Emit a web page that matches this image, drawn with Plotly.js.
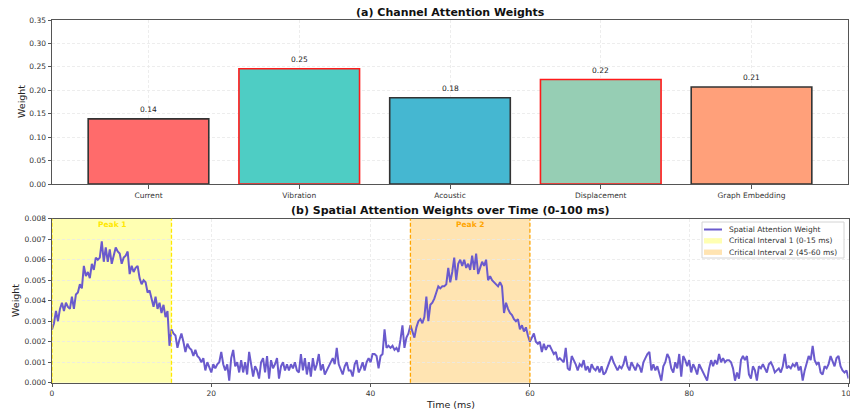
<!DOCTYPE html>
<html>
<head>
<meta charset="utf-8">
<script src="https://cdn.plot.ly/plotly-3.0.1.min.js"></script>
<style>html,body{margin:0;padding:0;background:#fff;}#chart{width:850px;height:413px;}</style>
</head>
<body>
<div id="chart"></div>
<script>
// ---- Data: (a) channel attention ----
const channels = ['Current', 'Vibration', 'Acoustic', 'Displacement', 'Graph Embedding'];
const channelWeights = [0.139, 0.246, 0.184, 0.223, 0.207];
const channelHighlighted = [false, true, false, true, false];

// ---- Data: (b) spatial attention over time (0-100 ms, sampled every 0.25 ms) ----
const timeStepMs = 0.25;
const spatialWeights = [
  0.0026,0.0029,0.0035,0.0030,0.0036,0.0039,0.0035,0.0039,0.0037,0.0036,0.0042,0.0036,0.0043,0.0044,0.0048,0.0046,0.0057,0.0052,0.0054,0.0051,
  0.0058,0.0055,0.0061,0.0060,0.0061,0.0069,0.0059,0.0066,0.0059,0.0065,0.0058,0.0062,0.0066,0.0064,0.0063,0.0058,0.0061,0.0062,0.0064,0.0053,
  0.0057,0.0054,0.0056,0.0057,0.0051,0.0048,0.0050,0.0049,0.0044,0.0045,0.0041,0.0037,0.0042,0.0036,0.0039,0.0034,0.0038,0.0032,0.0035,0.0018,
  0.0026,0.0024,0.0023,0.0017,0.0021,0.0024,0.0020,0.0015,0.0019,0.0017,0.0016,0.0013,0.0016,0.0013,0.0012,0.0010,0.0012,0.0006,0.0010,0.0007,
  0.0005,0.0009,0.0007,0.0009,0.0010,0.0015,0.0009,0.0006,0.0009,0.0001,0.0012,0.0016,0.0008,0.0010,0.0005,0.0011,0.0005,0.0010,0.0004,0.0015,
  0.0008,0.0003,0.0008,0.0006,0.0002,0.0010,0.0012,0.0005,0.0013,0.0002,0.0011,0.0007,0.0009,0.0012,0.0002,0.0008,0.0010,0.0006,0.0009,0.0006,
  0.0009,0.0007,0.0010,0.0006,0.0005,0.0014,0.0006,0.0012,0.0004,0.0010,0.0003,0.0012,0.0006,0.0009,0.0014,0.0006,0.0009,0.0004,0.0006,0.0008,
  0.0010,0.0012,0.0009,0.0017,0.0009,0.0006,0.0004,0.0008,0.0010,0.0006,0.0006,0.0003,0.0009,0.0011,0.0005,0.0007,0.0010,0.0006,0.0010,0.0012,
  0.0010,0.0014,0.0014,0.0013,0.0007,0.0013,0.0014,0.0026,0.0017,0.0018,0.0017,0.0018,0.0016,0.0017,0.0015,0.0021,0.0028,0.0017,0.0022,0.0024,
  0.0028,0.0025,0.0022,0.0027,0.0030,0.0031,0.0029,0.0032,0.0042,0.0030,0.0038,0.0039,0.0041,0.0044,0.0047,0.0046,0.0047,0.0047,0.0048,0.0056,
  0.0049,0.0054,0.0061,0.0050,0.0058,0.0060,0.0057,0.0060,0.0056,0.0058,0.0055,0.0062,0.0055,0.0063,0.0053,0.0056,0.0059,0.0057,0.0060,0.0050,
  0.0052,0.0050,0.0049,0.0048,0.0047,0.0049,0.0047,0.0034,0.0039,0.0036,0.0034,0.0033,0.0031,0.0030,0.0031,0.0026,0.0028,0.0025,0.0027,0.0023,
  0.0020,0.0022,0.0024,0.0020,0.0019,0.0020,0.0015,0.0019,0.0016,0.0018,0.0018,0.0016,0.0014,0.0015,0.0011,0.0012,0.0011,0.0010,0.0017,0.0007,
  0.0006,0.0013,0.0011,0.0009,0.0006,0.0009,0.0008,0.0011,0.0006,0.0008,0.0005,0.0009,0.0007,0.0006,0.0008,0.0005,0.0008,0.0004,0.0005,0.0008,
  0.0010,0.0013,0.0010,0.0008,0.0006,0.0008,0.0007,0.0009,0.0013,0.0008,0.0006,0.0010,0.0008,0.0006,0.0009,0.0008,0.0005,0.0010,0.0012,0.0014,
  0.0015,0.0006,0.0009,0.0006,0.0008,0.0005,0.0001,0.0008,0.0010,0.0014,0.0012,0.0007,0.0005,0.0010,0.0007,0.0014,0.0003,0.0013,0.0011,0.0008,
  0.0011,0.0005,0.0009,0.0007,0.0004,0.0009,0.0007,0.0005,0.0003,0.0001,0.0007,0.0011,0.0008,0.0011,0.0009,0.0014,0.0010,0.0012,0.0010,0.0011,
  0.0011,0.0010,0.0007,0.0001,0.0005,0.0002,0.0011,0.0013,0.0011,0.0013,0.0004,0.0002,0.0008,0.0006,0.0001,0.0008,0.0007,0.0009,0.0007,0.0005,
  0.0009,0.0010,0.0008,0.0005,0.0006,0.0007,0.0005,0.0008,0.0014,0.0007,0.0008,0.0007,0.0009,0.0008,0.0010,0.0006,0.0008,0.0001,0.0006,0.0010,
  0.0013,0.0011,0.0018,0.0011,0.0009,0.0010,0.0005,0.0004,0.0008,0.0007,0.0009,0.0013,0.0010,0.0008,0.0012,0.0013,0.0008,0.0006,0.0005,0.0006,
  0.0002
];
const intervalStarts = [0, 45];
const intervalEnds = [15, 60];
const intervalNames = ['Critical Interval 1 (0-15 ms)', 'Critical Interval 2 (45-60 ms)'];
const peakLabels = ['Peak 1', 'Peak 2'];
const seriesName = 'Spatial Attention Weight';

// ---- Styles ----
const W = 850, H = 413;
const FONT = 'DejaVu Sans, sans-serif';
const barColors = ['#FF6B6B', '#4ECDC4', '#45B7D1', '#96CEB4', '#FFA07A'];
const bandFill = ['rgba(255,255,0,0.30)', 'rgba(255,165,0,0.30)'];
const bandLine = ['#FFE800', '#FFA500'];
const peakColor = ['#FFE800', '#FFA500'];
const lineColor = '#6A5ACD';
const gridColor = '#e9e9e9';
const spineColor = '#555';
const px = v => v / W;           // pixel -> paper x
const py = v => 1 - v / H;       // pixel -> paper y

const times = spatialWeights.map((_, i) => i * timeStepMs);

const traces = [
  {
    type: 'bar', x: channels, y: channelWeights, xaxis: 'x', yaxis: 'y', width: 0.8,
    marker: {
      color: barColors,
      line: { color: channelHighlighted.map(h => h ? '#ff1a1a' : '#333333'), width: 1.6 }
    },
    hoverinfo: 'skip'
  },
  {
    type: 'scatter', mode: 'lines', name: seriesName, x: times, y: spatialWeights,
    xaxis: 'x2', yaxis: 'y2', line: { color: lineColor, width: 2 }, hoverinfo: 'skip'
  }
];

const axisCommon = {
  showline: true, mirror: true, linecolor: spineColor, linewidth: 1,
  ticks: 'outside', ticklen: 3.5, tickcolor: spineColor, tickwidth: 1,
  tickfont: { family: FONT, size: 7.5, color: '#333' },
  showgrid: true, gridcolor: gridColor, griddash: '3px,2px', gridwidth: 0.8,
  zeroline: false, fixedrange: true, ticklabeloverflow: 'allow'
};

const shapes = [];
const annotations = [];

// bands & dashed boundaries
intervalStarts.forEach((s, i) => {
  shapes.push({ type: 'rect', xref: 'x2', yref: 'y2 domain', x0: s, x1: intervalEnds[i], y0: 0, y1: 1,
    fillcolor: bandFill[i], line: { width: 0 }, layer: 'below' });
  [s, intervalEnds[i]].forEach(xv => {
    shapes.push({ type: 'line', xref: 'x2', yref: 'y2 domain', x0: xv, x1: xv, y0: 0, y1: 1,
      line: { color: bandLine[i], width: 1.3, dash: '4px,2px' }, layer: 'above' });
  });
  annotations.push({ xref: 'x2', yref: 'paper', x: (s + intervalEnds[i]) / 2, y: py(224),
    text: '<b>' + peakLabels[i] + '</b>', showarrow: false, xanchor: 'center', yanchor: 'middle',
    font: { family: FONT, size: 7.5, color: peakColor[i] } });
});

// bar value labels
channels.forEach((c, i) => {
  annotations.push({ xref: 'x', yref: 'y', x: c, y: channelWeights[i], text: channelWeights[i].toFixed(2),
    showarrow: false, xanchor: 'center', yanchor: 'bottom', yshift: 3,
    font: { family: FONT, size: 7.5, color: '#222' } });
});

// titles
annotations.push({ xref: 'paper', yref: 'paper', x: px(450), y: py(12.5), text: '<b>(a) Channel Attention Weights</b>',
  showarrow: false, xanchor: 'center', yanchor: 'middle', font: { family: FONT, size: 11, color: '#111' } });
annotations.push({ xref: 'paper', yref: 'paper', x: px(450), y: py(210.5), text: '<b>(b) Spatial Attention Weights over Time (0-100 ms)</b>',
  showarrow: false, xanchor: 'center', yanchor: 'middle', font: { family: FONT, size: 11, color: '#111' } });
annotations.push({ xref: 'paper', yref: 'paper', x: px(21), y: py(102), text: 'Weight', textangle: -90,
  showarrow: false, xanchor: 'center', yanchor: 'middle', font: { family: FONT, size: 9.5, color: '#222' } });
annotations.push({ xref: 'paper', yref: 'paper', x: px(15.5), y: py(300.5), text: 'Weight', textangle: -90,
  showarrow: false, xanchor: 'center', yanchor: 'middle', font: { family: FONT, size: 9.5, color: '#222' } });
annotations.push({ xref: 'paper', yref: 'paper', x: px(450), y: py(404), text: 'Time (ms)',
  showarrow: false, xanchor: 'center', yanchor: 'middle', font: { family: FONT, size: 9.5, color: '#222' } });

// manual legend
shapes.push({ type: 'rect', xref: 'paper', yref: 'paper', x0: px(702), x1: px(844), y0: py(258), y1: py(222),
  fillcolor: 'rgba(255,255,255,0.85)', line: { color: '#d4d4d4', width: 1 }, layer: 'above' });
shapes.push({ type: 'line', xref: 'paper', yref: 'paper', x0: px(704), x1: px(722), y0: py(229.5), y1: py(229.5),
  line: { color: lineColor, width: 2 }, layer: 'above' });
const legendTexts = [seriesName].concat(intervalNames);
const legendY = [229.5, 240.8, 252.2];
intervalNames.forEach((n, i) => {
  shapes.push({ type: 'rect', xref: 'paper', yref: 'paper', x0: px(704), x1: px(722),
    y0: py(legendY[i + 1] + 2.7), y1: py(legendY[i + 1] - 2.7),
    fillcolor: bandFill[i], line: { width: 0 }, layer: 'above' });
});
legendTexts.forEach((t, i) => {
  annotations.push({ xref: 'paper', yref: 'paper', x: px(727), y: py(legendY[i]), text: t,
    showarrow: false, xanchor: 'left', yanchor: 'middle', font: { family: FONT, size: 7.5, color: '#333' } });
});

const layout = {
  width: W, height: H, margin: { l: 0, r: 0, t: 0, b: 0 },
  paper_bgcolor: '#fff', plot_bgcolor: '#fff', showlegend: false,
  font: { family: FONT },
  xaxis: Object.assign({}, axisCommon, { domain: [px(52), px(848)], anchor: 'y', type: 'category',
    range: [-0.64, 4.64] }),
  yaxis: Object.assign({}, axisCommon, { domain: [py(184), py(20)], anchor: 'x', range: [0, 0.35],
    dtick: 0.05, tick0: 0, tickformat: '.2f' }),
  xaxis2: Object.assign({}, axisCommon, { domain: [px(52), px(848.5)], anchor: 'y2', range: [0, 100],
    dtick: 20, tick0: 0 }),
  yaxis2: Object.assign({}, axisCommon, { domain: [py(382.7), py(218.7)], anchor: 'x2', range: [0, 0.008],
    dtick: 0.001, tick0: 0, tickformat: '.3f' }),
  shapes: shapes,
  annotations: annotations
};

Plotly.newPlot('chart', traces, layout, { staticPlot: true, displayModeBar: false });
</script>
</body>
</html>
